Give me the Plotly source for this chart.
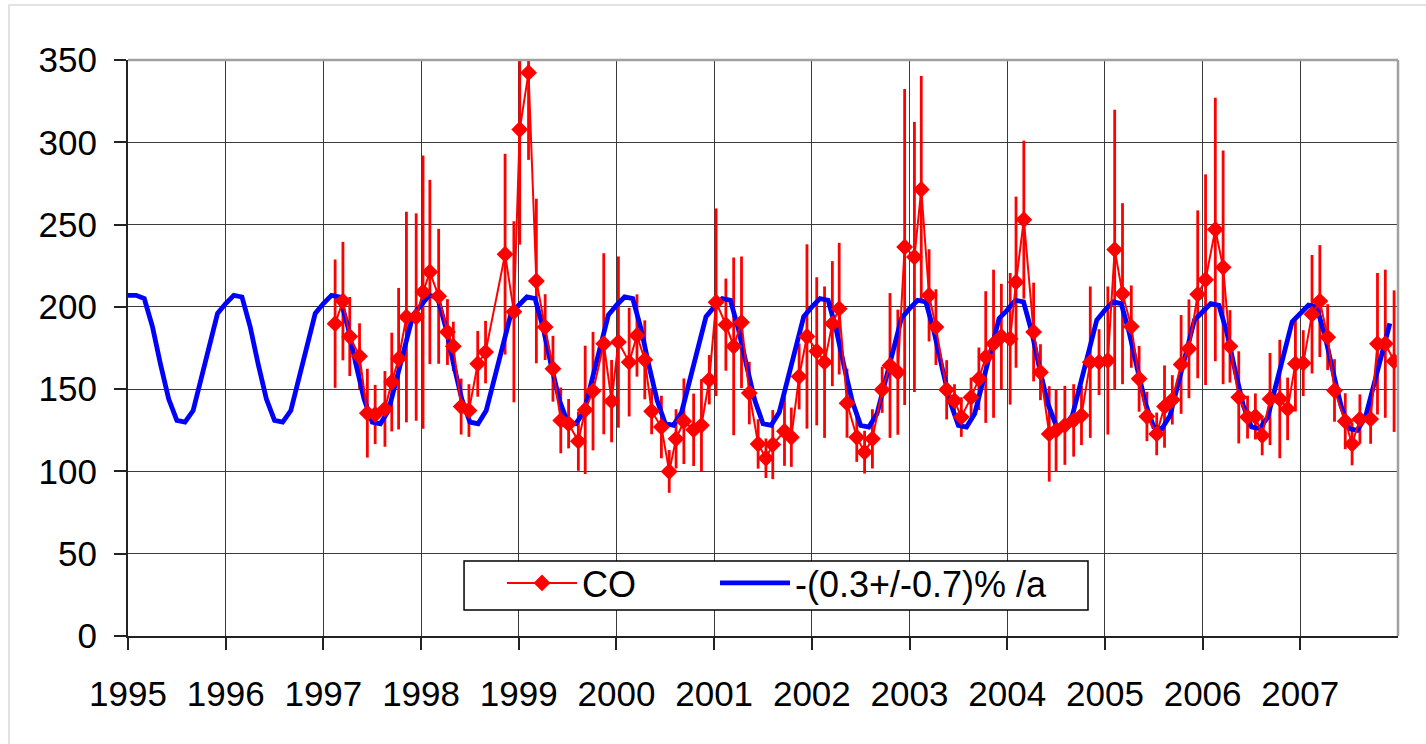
import plotly.graph_objects as go

# ---- CO monthly means (decimal year, value, 1-sigma) ----
co_time = [
    1997.12, 1997.20, 1997.27, 1997.37, 1997.45, 1997.53, 1997.63, 1997.70, 1997.77, 1997.85, 1997.95,
    1998.02, 1998.09, 1998.18, 1998.27, 1998.33, 1998.41, 1998.49, 1998.58, 1998.66, 1998.86, 1998.95,
    1999.01, 1999.10, 1999.18, 1999.27, 1999.35, 1999.43, 1999.51, 1999.61, 1999.68, 1999.76, 1999.87, 1999.95,
    2000.02, 2000.13, 2000.21, 2000.29, 2000.36, 2000.46, 2000.54, 2000.61, 2000.69, 2000.79, 2000.87, 2000.95,
    2001.02, 2001.12, 2001.20, 2001.28, 2001.36, 2001.45, 2001.53, 2001.60, 2001.72, 2001.79, 2001.87, 2001.95,
    2002.05, 2002.13, 2002.21, 2002.28, 2002.36, 2002.46, 2002.54, 2002.62, 2002.72, 2002.80, 2002.88, 2002.95,
    2003.05, 2003.12, 2003.20, 2003.27, 2003.38, 2003.46, 2003.53, 2003.63, 2003.71, 2003.78, 2003.86, 2003.94,
    2004.03, 2004.09, 2004.17, 2004.27, 2004.34, 2004.43, 2004.50, 2004.59, 2004.68, 2004.76, 2004.85, 2004.94,
    2005.03, 2005.10, 2005.18, 2005.27, 2005.35, 2005.43, 2005.53, 2005.61, 2005.69, 2005.78, 2005.86, 2005.95,
    2006.03, 2006.13, 2006.21, 2006.28, 2006.37, 2006.46, 2006.54, 2006.61, 2006.69, 2006.79, 2006.87, 2006.95,
    2007.03, 2007.12, 2007.20, 2007.28, 2007.35, 2007.46, 2007.53, 2007.61, 2007.72, 2007.79, 2007.87, 2007.96,
]
co_value = [
    189.8, 203.5, 182.0, 170.0, 135.4, 134.6, 138.0, 154.3, 168.5, 193.8, 193.8,
    209.0, 221.2, 206.4, 184.7, 176.0, 139.4, 137.0, 165.4, 172.5, 232.0, 197.0,
    307.8, 342.3, 215.7, 187.7, 162.4, 131.0, 129.0, 118.4, 137.4, 148.8, 177.6, 142.7,
    178.6, 166.4, 182.6, 167.8, 136.6, 127.0, 100.0, 119.8, 130.5, 125.3, 128.0, 155.7,
    202.8, 189.2, 176.0, 190.6, 147.6, 116.7, 108.0, 116.3, 124.4, 120.8, 157.7, 182.0,
    173.0, 166.4, 189.8, 198.9, 141.5, 120.8, 111.7, 119.8, 149.6, 164.4, 160.3, 236.4,
    230.3, 271.3, 207.0, 187.7, 149.6, 143.0, 133.0, 145.0, 156.3, 169.5, 177.6, 182.0,
    180.6, 215.0, 253.0, 184.7, 160.3, 122.8, 124.8, 128.0, 131.0, 134.0, 166.4, 166.4,
    167.4, 234.8, 208.0, 188.0, 156.3, 133.4, 122.8, 139.4, 143.5, 165.0, 174.5, 207.6,
    216.5, 247.0, 224.0, 176.0, 145.0, 133.0, 133.4, 121.8, 144.0, 144.0, 138.0, 165.4,
    165.8, 195.5, 203.5, 181.6, 149.2, 130.5, 116.7, 131.8, 131.8, 177.6, 177.6, 167.0,
]
co_error = [
    39, 36, 24, 20, 27, 18, 23, 30, 43, 64, 63,
    83, 56, 41, 20, 15, 17, 16, 20, 19, 61, 55,
    70, 53, 50, 20, 20, 20, 15, 18, 39, 36, 55, 25,
    52, 33, 25, 24, 14, 19, 13, 18, 26, 22, 28, 15,
    57, 28, 54, 40, 19, 15, 12, 21, 21, 18, 20, 56,
    45, 46, 38, 40, 21, 15, 13, 18, 14, 44, 38, 96,
    82, 69, 28, 23, 18, 10, 12, 12, 19, 40, 45, 32,
    40, 52, 48, 30, 17, 29, 25, 24, 22, 18, 46, 20,
    45, 85, 55, 25, 20, 15, 13, 25, 15, 30, 30, 51,
    64, 80, 71, 22, 28, 13, 14, 12, 28, 36, 19, 29,
    20, 36, 34, 20, 19, 17, 13, 15, 15, 43, 45, 43,
]

# ---- Harmonic fit with trend, monthly values per year (Jan..Dec) ----
fit_years = list(range(1995, 2008))
fit_monthly = [
    [207, 207, 205, 188, 165, 144, 131, 130, 137, 157, 178, 196],  # 1995
    [202, 207, 206, 188, 165, 144, 131, 130, 137, 157, 178, 196],  # 1996
    [202, 207, 206, 188, 165, 144, 130, 129, 137, 157, 178, 195],  # 1997
    [201, 207, 206, 188, 165, 144, 130, 129, 137, 156, 177, 195],  # 1998
    [201, 206, 205, 187, 164, 143, 130, 129, 136, 156, 177, 195],  # 1999
    [201, 206, 205, 187, 164, 143, 129, 128, 136, 156, 177, 194],  # 2000
    [200, 205, 204, 186, 164, 143, 129, 128, 136, 155, 176, 194],  # 2001
    [200, 205, 204, 186, 163, 142, 128, 127, 135, 155, 176, 193],  # 2002
    [199, 204, 203, 185, 163, 142, 128, 127, 135, 154, 175, 193],  # 2003
    [198, 204, 203, 185, 162, 141, 128, 127, 134, 154, 175, 192],  # 2004
    [198, 203, 202, 184, 162, 141, 127, 126, 134, 153, 174, 192],  # 2005
    [197, 202, 201, 184, 161, 140, 127, 126, 133, 153, 174, 191],  # 2006
    [196, 201, 200, 183, 161, 140, 126, 125, 133, 152, 173, 190],  # 2007
]

year_ticks = list(range(1995, 2008))
year_labels = [str(y) for y in year_ticks]
y_ticks = [0, 50, 100, 150, 200, 250, 300, 350]

fit_time = []
fit_value = []
for yr, months in zip(fit_years, fit_monthly):
    for m, v in enumerate(months):
        fit_time.append(yr + m / 12.0)
        fit_value.append(v)

FONT = "Liberation Sans, Arial, sans-serif"
RED = "#ff0000"
BLUE = "#0000ff"

fig = go.Figure()

# error bars sit underneath the fit curve
fig.add_trace(go.Scatter(
    x=co_time, y=co_value, mode="markers",
    marker=dict(size=1, color="rgba(0,0,0,0)"),
    error_y=dict(type="data", array=co_error, symmetric=True,
                 color=RED, thickness=2.8, width=0),
    showlegend=False, hoverinfo="skip",
))

# fitted seasonal cycle with trend
fig.add_trace(go.Scatter(
    x=fit_time, y=fit_value, mode="lines", name="-(0.3+/-0.7)% /a",
    line=dict(color=BLUE, width=4.8), legend="legend2",
))

# CO monthly means, drawn on top of the fit
fig.add_trace(go.Scatter(
    x=co_time, y=co_value, mode="lines+markers", name="CO",
    line=dict(color=RED, width=2),
    marker=dict(symbol="diamond", size=13, color=RED),
    legend="legend",
))

legend_common = dict(
    orientation="h", y=0.1441, xanchor="left", yanchor="top",
    bgcolor="rgba(0,0,0,0)", borderwidth=0,
    font=dict(family=FONT, size=36, color="black"),
    itemwidth=70,
)

fig.update_layout(
    width=1426, height=744,
    margin=dict(l=128, r=28, t=60, b=108),
    paper_bgcolor="white", plot_bgcolor="white",
    font=dict(family=FONT, color="black", size=35),
    showlegend=True,
    legend=dict(x=0.2945, **legend_common),
    legend2=dict(x=0.4622, **legend_common),
)

fig.update_xaxes(
    range=[1995, 2008], tickvals=year_ticks, ticktext=year_labels,
    showgrid=True, gridcolor="#3a3a3a", gridwidth=1.3,
    showline=True, linecolor="#222222", linewidth=2,
    ticks="outside", ticklen=12, tickcolor="#222222", tickwidth=1.5,
    ticklabelstandoff=14, zeroline=False,
    tickfont=dict(family=FONT, size=35, color="black"),
)
fig.update_yaxes(
    range=[0, 350], tickvals=y_ticks,
    showgrid=True, gridcolor="#3a3a3a", gridwidth=1.3,
    showline=True, linecolor="#222222", linewidth=2,
    ticks="outside", ticklen=12, tickcolor="#222222", tickwidth=1.5,
    ticklabelstandoff=10, zeroline=False,
    tickfont=dict(family=FONT, size=35, color="black"),
)

# top and right frame of the plot area
fig.add_shape(type="line", xref="paper", yref="paper", x0=0, x1=1, y0=1, y1=1,
              line=dict(color="#a0a0a0", width=2.5))
fig.add_shape(type="line", xref="paper", yref="paper", x0=1, x1=1, y0=0, y1=1,
              line=dict(color="#a0a0a0", width=2.5))
# legend box
fig.add_shape(type="rect", xref="paper", yref="paper",
              x0=0.2646, x1=0.7559, y0=0.0451, y1=0.1302,
              fillcolor="white", line=dict(color="black", width=1.5))
# chart-area border
fig.add_shape(type="rect", xref="paper", yref="paper",
              x0=-0.0937, x1=1.05, y0=-0.3, y1=1.0955,
              line=dict(color="#d9d9d9", width=1.5), layer="below")

fig.write_html("out.html")
